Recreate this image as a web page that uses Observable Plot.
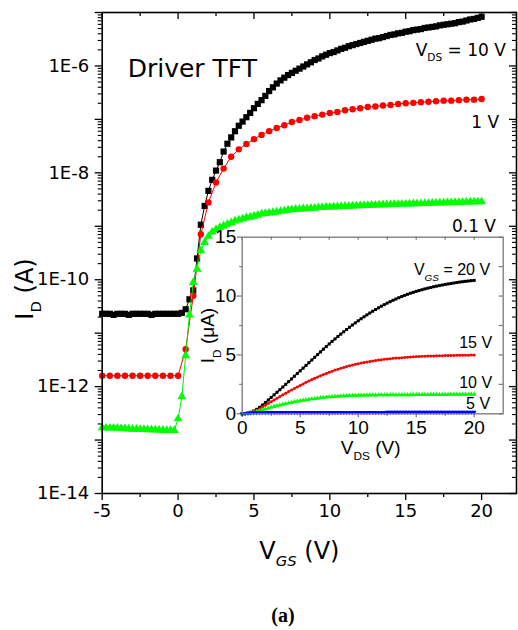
<!DOCTYPE html>
<html>
<head>
<meta charset="utf-8">
<script src="https://cdn.jsdelivr.net/npm/d3@7"></script>
<script src="https://cdn.jsdelivr.net/npm/@observablehq/plot@0.6"></script>
<style>
  html, body { margin: 0; padding: 0; background: #fff; }
  #wrap { position: relative; width: 518px; height: 630px; overflow: hidden; background: #fff; }
  #wrap svg { position: absolute; }
  #cap { position: absolute; left: 0; width: 566px; top: 604px; line-height: 20px; text-align: center;
         font: bold 20px "Liberation Serif", serif; color: #000; }
</style>
</head>
<body>
<div id="wrap"><div id="cap">(a)</div></div>
<script>
// ---------------- DATA: transfer curves (main plot) ----------------
const vgsFine = [-5,-4.75,-4.5,-4.25,-4,-3.75,-3.5,-3.25,-3,-2.75,-2.5,-2.25,-2,-1.75,-1.5,-1.25,-1,-0.75,-0.5,-0.25,
  0,0.25,0.5,0.75,1,1.25,1.5,1.75,2,2.25,2.5,2.75,3,3.25,3.5,3.75,4,4.25,4.5,4.75,
  5,5.25,5.5,5.75,6,6.25,6.5,6.75,7,7.25,7.5,7.75,8,8.25,8.5,8.75,9,9.25,9.5,9.75,
  10,10.25,10.5,10.75,11,11.25,11.5,11.75,12,12.25,12.5,12.75,13,13.25,13.5,13.75,14,14.25,14.5,14.75,
  15,15.25,15.5,15.75,16,16.25,16.5,16.75,17,17.25,17.5,17.75,18,18.25,18.5,18.75,19,19.25,19.5,19.75,20];
const vgsCoarse = [-5,-4.5,-4,-3.5,-3,-2.5,-2,-1.5,-1,-0.5,0,0.5,1,1.5,2,2.5,3,3.5,4,4.5,5,5.5,6,6.5,7,7.5,
  8,8.5,9,9.5,10,10.5,11,11.5,12,12.5,13,13.5,14,14.5,15,15.5,16,16.5,17,17.5,18,18.5,19,19.5,20];

// I_D (A) at V_DS = 10 V (black squares)
const idVds10 = [2.3e-11,2.3e-11,2.3e-11,2.2e-11,2.3e-11,2.3e-11,2.3e-11,2.2e-11,2.3e-11,2.3e-11,
  2.3e-11,2.3e-11,2.3e-11,2.2e-11,2.3e-11,2.3e-11,2.3e-11,2.3e-11,2.3e-11,2.3e-11,
  2.3e-11,2.4e-11,2.8e-11,4.3e-11,6.3e-11,2.5e-10,1.07e-9,2.4e-9,4.6e-9,7.4e-9,
  1.1e-8,1.58e-8,2.5e-8,3.5e-8,4.6e-8,6.0e-8,7.6e-8,9.1e-8,1.10e-7,1.32e-7,
  1.62e-7,1.95e-7,2.29e-7,2.75e-7,3.39e-7,3.98e-7,4.68e-7,5.37e-7,6.03e-7,6.76e-7,
  7.41e-7,8.13e-7,8.91e-7,9.77e-7,1.07e-6,1.17e-6,1.29e-6,1.38e-6,1.51e-6,1.62e-6,
  1.74e-6,1.82e-6,1.95e-6,2.09e-6,2.19e-6,2.34e-6,2.45e-6,2.57e-6,2.69e-6,2.82e-6,
  2.95e-6,3.09e-6,3.24e-6,3.31e-6,3.47e-6,3.63e-6,3.80e-6,3.89e-6,4.07e-6,4.17e-6,
  4.37e-6,4.47e-6,4.68e-6,4.79e-6,4.90e-6,5.13e-6,5.25e-6,5.37e-6,5.50e-6,5.75e-6,
  5.89e-6,6.03e-6,6.17e-6,6.31e-6,6.61e-6,6.76e-6,7.08e-6,7.41e-6,7.59e-6,7.94e-6,8.32e-6];

// I_D (A) at V_DS = 1 V (red circles)
const idVds1 = [1.6e-12,1.6e-12,1.6e-12,1.6e-12,1.6e-12,1.6e-12,1.6e-12,1.6e-12,1.6e-12,1.6e-12,
  1.6e-12,5.0e-12,5.0e-11,7.1e-10,2.8e-9,6.6e-9,1.20e-8,2.0e-8,2.75e-8,3.47e-8,
  4.27e-8,5.13e-8,6.03e-8,6.92e-8,7.76e-8,8.91e-8,9.77e-8,1.07e-7,1.15e-7,1.23e-7,
  1.32e-7,1.38e-7,1.48e-7,1.55e-7,1.62e-7,1.70e-7,1.74e-7,1.82e-7,1.86e-7,1.95e-7,
  2.00e-7,2.04e-7,2.09e-7,2.14e-7,2.19e-7,2.24e-7,2.24e-7,2.29e-7,2.34e-7,2.34e-7,2.40e-7];

// I_D (A) at V_DS = 0.1 V (green triangles)
const idVds01 = [1.70e-13,1.69e-13,1.68e-13,1.68e-13,1.67e-13,1.66e-13,1.65e-13,1.62e-13,1.60e-13,1.60e-13,
  1.59e-13,1.58e-13,1.57e-13,1.56e-13,1.55e-13,1.54e-13,1.53e-13,1.52e-13,1.52e-13,1.51e-13,
  2.5e-13,6.5e-13,3.8e-12,2.2e-11,8.9e-11,1.58e-10,3.5e-10,5.0e-10,6.5e-10,7.8e-10,
  8.7e-10,9.5e-10,1.02e-9,1.10e-9,1.17e-9,1.26e-9,1.32e-9,1.38e-9,1.45e-9,1.48e-9,
  1.55e-9,1.62e-9,1.70e-9,1.74e-9,1.78e-9,1.82e-9,1.86e-9,1.91e-9,1.95e-9,2.00e-9,
  2.04e-9,2.09e-9,2.09e-9,2.14e-9,2.14e-9,2.19e-9,2.19e-9,2.24e-9,2.24e-9,2.29e-9,
  2.29e-9,2.31e-9,2.33e-9,2.35e-9,2.37e-9,2.38e-9,2.40e-9,2.42e-9,2.43e-9,2.45e-9,
  2.46e-9,2.48e-9,2.50e-9,2.51e-9,2.53e-9,2.54e-9,2.55e-9,2.57e-9,2.58e-9,2.60e-9,
  2.61e-9,2.62e-9,2.64e-9,2.65e-9,2.66e-9,2.68e-9,2.69e-9,2.70e-9,2.72e-9,2.73e-9,
  2.75e-9,2.76e-9,2.78e-9,2.79e-9,2.81e-9,2.82e-9,2.84e-9,2.85e-9,2.86e-9,2.87e-9,2.88e-9];

// ---------------- DATA: output curves (inset) ----------------
const vds = [0,0.25,0.5,0.75,1,1.25,1.5,1.75,2,2.25,2.5,2.75,3,3.25,3.5,3.75,4,4.25,4.5,4.75,
  5,5.25,5.5,5.75,6,6.25,6.5,6.75,7,7.25,7.5,7.75,8,8.25,8.5,8.75,9,9.25,9.5,9.75,
  10,10.25,10.5,10.75,11,11.25,11.5,11.75,12,12.25,12.5,12.75,13,13.25,13.5,13.75,14,14.25,14.5,14.75,
  15,15.25,15.5,15.75,16,16.25,16.5,16.75,17,17.25,17.5,17.75,18,18.25,18.5,18.75,19,19.25,19.5,19.75,20];
// I_D (µA)
const idVgs20 = [0,0.02,0.06,0.13,0.24,0.38,0.55,0.74,0.95,1.17,1.39,1.61,1.83,2.05,2.27,2.5,2.73,2.96,3.19,3.42,
  3.65,3.88,4.11,4.34,4.57,4.8,5.03,5.26,5.49,5.71,5.93,6.15,6.36,6.57,6.77,6.97,7.16,7.35,7.54,7.72,
  7.9,8.07,8.24,8.4,8.56,8.71,8.86,9.0,9.14,9.27,9.4,9.52,9.64,9.75,9.86,9.96,10.06,10.15,10.24,10.32,
  10.4,10.47,10.54,10.61,10.67,10.73,10.79,10.84,10.89,10.94,10.99,11.03,11.07,11.11,11.15,11.19,11.22,11.25,11.28,11.31,11.33];
const idVgs15 = [0,0.01,0.04,0.1,0.18,0.3,0.43,0.58,0.73,0.88,1.03,1.18,1.33,1.47,1.61,1.75,1.89,2.02,2.15,2.28,
  2.41,2.54,2.67,2.79,2.91,3.02,3.13,3.23,3.33,3.43,3.53,3.62,3.71,3.79,3.87,3.94,4.01,4.08,4.14,4.2,
  4.26,4.31,4.36,4.41,4.45,4.49,4.53,4.57,4.6,4.63,4.66,4.68,4.71,4.73,4.75,4.77,4.79,4.81,4.83,4.84,
  4.86,4.87,4.88,4.89,4.9,4.91,4.92,4.93,4.94,4.94,4.95,4.95,4.96,4.96,4.97,4.97,4.98,4.98,4.98,4.99,4.99];
const idVgs10 = [0,0.01,0.04,0.08,0.13,0.19,0.26,0.33,0.4,0.47,0.54,0.61,0.68,0.74,0.8,0.86,0.91,0.96,1.01,1.06,
  1.1,1.14,1.18,1.22,1.26,1.29,1.32,1.35,1.38,1.41,1.43,1.45,1.47,1.49,1.5,1.52,1.53,1.54,1.55,1.56,
  1.57,1.57,1.58,1.58,1.59,1.59,1.59,1.6,1.6,1.6,1.61,1.61,1.61,1.61,1.62,1.62,1.62,1.62,1.62,1.63,
  1.63,1.63,1.63,1.63,1.63,1.64,1.64,1.64,1.64,1.64,1.64,1.64,1.65,1.65,1.65,1.65,1.65,1.65,1.65,1.65,1.65];
const idVgs5 = [0,0.02,0.05,0.07,0.09,0.1,0.11,0.11,0.12,0.12,0.12,0.12,0.12,0.12,0.12,0.12,0.12,0.12,0.12,0.12,
  0.12,0.12,0.12,0.12,0.12,0.12,0.12,0.12,0.12,0.12,0.12,0.12,0.12,0.12,0.12,0.12,0.12,0.12,0.12,0.12,
  0.12,0.12,0.12,0.12,0.12,0.12,0.12,0.12,0.12,0.12,0.13,0.13,0.13,0.13,0.13,0.13,0.13,0.13,0.13,0.13,
  0.13,0.13,0.13,0.13,0.13,0.13,0.13,0.13,0.13,0.13,0.13,0.13,0.13,0.13,0.13,0.13,0.13,0.13,0.13,0.13,0.13];

// ---------------- tick labels ----------------
const xTicks = [-5, 0, 5, 10, 15, 20];
const xTickLabels = ["-5", "0", "5", "10", "15", "20"];
const xMinor = [-2.5, 2.5, 7.5, 12.5, 17.5];
const yLabelTicks = [1e-14, 1e-12, 1e-10, 1e-8, 1e-6];
const yTickLabels = ["1E-14", "1E-12", "1E-10", "1E-8", "1E-6"];
const yOtherDecades = [1e-13, 1e-11, 1e-9, 1e-7, 1e-5];
const insetXTicks = [0, 5, 10, 15, 20];
const insetXMinor = [2.5, 7.5, 12.5, 17.5];
const insetYTicks = [0, 5, 10, 15];
const insetYMinor = [2.5, 7.5, 12.5];

// ---------------- checks ----------------
function check(name, a, b) { if (a.length !== b.length) throw new Error(`length mismatch ${name}: ${a.length} vs ${b.length}`); }
check("idVds10", vgsFine, idVds10); check("idVds1", vgsCoarse, idVds1); check("idVds01", vgsFine, idVds01);
check("idVgs20", vds, idVgs20); check("idVgs15", vds, idVgs15); check("idVgs10", vds, idVgs10); check("idVgs5", vds, idVgs5);

const rows = (xs, ys) => xs.map((v, k) => ({v, i: ys[k]}));
const black = rows(vgsFine, idVds10), red = rows(vgsCoarse, idVds1), green = rows(vgsFine, idVds01);
const iBlack = rows(vds, idVgs20), iRed = rows(vds, idVgs15), iGreen = rows(vds, idVgs10), iBlue = rows(vds, idVgs5);

const yMinor = d3.range(-14, -5).flatMap(e => [2, 3, 4, 5, 6, 7, 8, 9].map(m => m * Math.pow(10, e)));
const yAllDecades = yLabelTicks.concat(yOtherDecades);
const xLab = new Map(xTicks.map((v, k) => [v, xTickLabels[k]]));
const yLab = new Map(yLabelTicks.map((v, k) => [v, yTickLabels[k]]));

// ---------------- subscripts helper ----------------
function richify(svg) {
  svg.querySelectorAll("text").forEach(el => {
    const t = el.textContent;
    if (!/_\*?\{/.test(t)) return;
    const fs = parseFloat(getComputedStyle(el).fontSize);
    const sub = fs * 0.62, shift = fs * 0.33;
    while (el.firstChild) el.removeChild(el.firstChild);
    const add = (txt, attrs) => {
      const ts = document.createElementNS("http://www.w3.org/2000/svg", "tspan");
      ts.textContent = txt;
      for (const k in attrs) ts.setAttribute(k, attrs[k]);
      el.appendChild(ts);
    };
    const re = /_(\*?)\{([^}]*)\}/g;
    let last = 0, m, down = false;
    while ((m = re.exec(t))) {
      if (m.index > last) { add(t.slice(last, m.index), down ? {dy: -shift} : {}); down = false; }
      const a = {dy: shift, "font-size": sub};
      if (m[1]) a["font-style"] = "italic";
      add(m[2], a);
      down = true;
      last = re.lastIndex;
    }
    if (last < t.length) add(t.slice(last), down ? {dy: -shift} : {});
  });
}

// ---------------- main plot ----------------
const W = 518, H = 580, mL = 101.7, mR = 2, mT = 12, mB = 87;
const fw = W - mL - mR, fh = H - mT - mB;

const mainNotes = [
  {t: "V_{DS} = 10 V", x: 21.6, y: 1.56e-6},
  {t: "1 V", x: 21.15, y: 6.8e-8},
  {t: "0.1 V", x: 20.95, y: 7.7e-10}
];

const main = Plot.plot({
  width: W, height: H, marginLeft: mL, marginRight: mR, marginTop: mT, marginBottom: mB,
  style: {fontFamily: "DejaVu Sans", background: "white", overflow: "visible", color: "black"},
  x: {type: "linear", domain: [-5, 22.3]},
  y: {type: "log", domain: [1e-14, 1e-5]},
  marks: [
    Plot.axisX(xTicks, {anchor: "bottom", tickSize: 7, tickPadding: 4, fontSize: 18, strokeWidth: 1.3, tickFormat: d => xLab.get(d), label: null}),
    Plot.axisX(xMinor, {anchor: "bottom", tickSize: 4, strokeWidth: 1.3, tickFormat: () => "", label: null}),
    Plot.axisY(yLabelTicks, {anchor: "left", tickSize: 7, tickPadding: 6, fontSize: 18, strokeWidth: 1.3, tickFormat: d => yLab.get(d), label: null}),
    Plot.axisY(yOtherDecades, {anchor: "left", tickSize: 7, strokeWidth: 1.3, tickFormat: () => "", label: null}),
    Plot.axisY(yMinor, {anchor: "left", tickSize: 4, strokeWidth: 1.1, tickFormat: () => "", label: null}),
    Plot.tickX(xTicks, {x: d => d, insetBottom: fh - 7, strokeWidth: 1.3}),
    Plot.tickX(xMinor, {x: d => d, insetBottom: fh - 4, strokeWidth: 1.3}),
    Plot.tickY(yAllDecades, {y: d => d, insetLeft: fw - 7, strokeWidth: 1.3}),
    Plot.tickY(yMinor, {y: d => d, insetLeft: fw - 4, strokeWidth: 1.1}),
    Plot.line(black, {x: "v", y: "i", stroke: "black", strokeWidth: 1}),
    Plot.dot(black, {x: "v", y: "i", symbol: "square", fill: "black", stroke: "none", r: 3.5}),
    Plot.line(red, {x: "v", y: "i", stroke: "#ff0000", strokeWidth: 1}),
    Plot.dot(red, {x: "v", y: "i", symbol: "circle", fill: "#ff0000", stroke: "none", r: 3.2}),
    Plot.line(green, {x: "v", y: "i", stroke: "#00ee00", strokeWidth: 1}),
    Plot.dot(green, {x: "v", y: "i", symbol: "triangle", fill: "#00ff00", stroke: "none", r: 3.3}),
    Plot.frame({stroke: "black", strokeWidth: 1.6}),
    Plot.text(mainNotes, {x: "x", y: "y", text: "t", textAnchor: "end", lineAnchor: "bottom", fontSize: 17, fill: "black"}),
    Plot.text([{t: "Driver TFT", x: -3.32, y: 6.3e-7}], {x: "x", y: "y", text: "t", textAnchor: "start", lineAnchor: "bottom", fontSize: 25, fill: "black"}),
    Plot.text(["I_{D} (A)"], {frameAnchor: "left", dx: -77, dy: 36, rotate: -90, textAnchor: "middle", lineAnchor: "middle", fontSize: 24, fill: "black"}),
    Plot.text(["V_*{GS} (V)"], {frameAnchor: "bottom", dx: -10, dy: 65, textAnchor: "middle", lineAnchor: "bottom", fontSize: 24, fill: "black"})
  ]
});
main.style.left = "0px"; main.style.top = "0px";

// ---------------- inset plot ----------------
const IX = 200, IY = 225, IW = 310, IH = 245;
const imL = 41.7, imT = 11.7, imR = IW - 302.7, imB = IH - 188.3;
const ifw = IW - imL - imR, ifh = IH - imT - imB;
const insetNotes = [
  {t: "V_*{GS} = 20 V", x: 21.37, y: 11.75},
  {t: "15 V", x: 21.54, y: 5.55},
  {t: "10 V", x: 21.54, y: 2.15},
  {t: "5 V", x: 21.37, y: 0.45}
];
const gray = "#777";
const inset = Plot.plot({
  width: IW, height: IH, marginLeft: imL, marginRight: imR, marginTop: imT, marginBottom: imB,
  style: {fontFamily: "Liberation Sans", background: "transparent", overflow: "visible", color: "black"},
  x: {type: "linear", domain: [0, 22.5]},
  y: {type: "linear", domain: [0, 15]},
  marks: [
    Plot.frame({fill: "white", stroke: "none"}),
    Plot.axisX(insetXTicks, {anchor: "bottom", tickSize: 4, tickPadding: 3, fontSize: 19, stroke: gray, fill: "black", strokeWidth: 1.2, label: null}),
    Plot.axisX(insetXMinor, {anchor: "bottom", tickSize: 2.5, stroke: gray, strokeWidth: 1.2, tickFormat: () => "", label: null}),
    Plot.axisY(insetYTicks, {anchor: "left", tickSize: 5, tickPadding: 1, fontSize: 19, stroke: gray, fill: "black", strokeWidth: 1.2, label: null}),
    Plot.axisY(insetYMinor, {anchor: "left", tickSize: 2.5, stroke: gray, strokeWidth: 1.2, tickFormat: () => "", label: null}),
    Plot.tickX(insetXTicks.concat(insetXMinor), {x: d => d, insetBottom: ifh - 3, stroke: gray, strokeWidth: 1.2}),
    Plot.tickY(insetYTicks.concat(insetYMinor), {y: d => d, insetLeft: ifw - 4, stroke: gray, strokeWidth: 1.2}),
    Plot.line(iBlack, {x: "v", y: "i", stroke: "black", strokeWidth: 1.4}),
    Plot.dot(iBlack, {x: "v", y: "i", symbol: "square", fill: "black", stroke: "none", r: 1.7}),
    Plot.line(iRed, {x: "v", y: "i", stroke: "#ff0000", strokeWidth: 1.4}),
    Plot.dot(iRed, {x: "v", y: "i", symbol: "circle", fill: "#ff0000", stroke: "none", r: 1.5}),
    Plot.line(iGreen, {x: "v", y: "i", stroke: "#00ee00", strokeWidth: 1.4}),
    Plot.dot(iGreen, {x: "v", y: "i", symbol: "triangle", fill: "#00ff00", stroke: "none", r: 1.8}),
    Plot.line(iBlue, {x: "v", y: "i", stroke: "#0000ff", strokeWidth: 1.4}),
    Plot.dot(iBlue, {x: "v", y: "i", symbol: "triangle", rotate: 180, fill: "#0000ff", stroke: "none", r: 1.8}),
    Plot.frame({stroke: gray, strokeWidth: 1.3}),
    Plot.text(insetNotes, {x: "x", y: "y", text: "t", textAnchor: "end", lineAnchor: "bottom", fontSize: 16, fill: "black"}),
    Plot.text(["I_{D} (\u03BCA)"], {frameAnchor: "left", dx: -34, dy: 10, rotate: -90, textAnchor: "middle", lineAnchor: "middle", fontSize: 19, fill: "black"}),
    Plot.text(["V_{DS} (V)"], {frameAnchor: "bottom", dx: -2, dy: 40, textAnchor: "middle", lineAnchor: "bottom", fontSize: 19, fill: "black"})
  ]
});
inset.style.left = IX + "px"; inset.style.top = IY + "px";

const wrap = document.getElementById("wrap");
wrap.insertBefore(main, wrap.firstChild);
wrap.insertBefore(inset, document.getElementById("cap"));
richify(main);
richify(inset);
</script>
</body>
</html>
